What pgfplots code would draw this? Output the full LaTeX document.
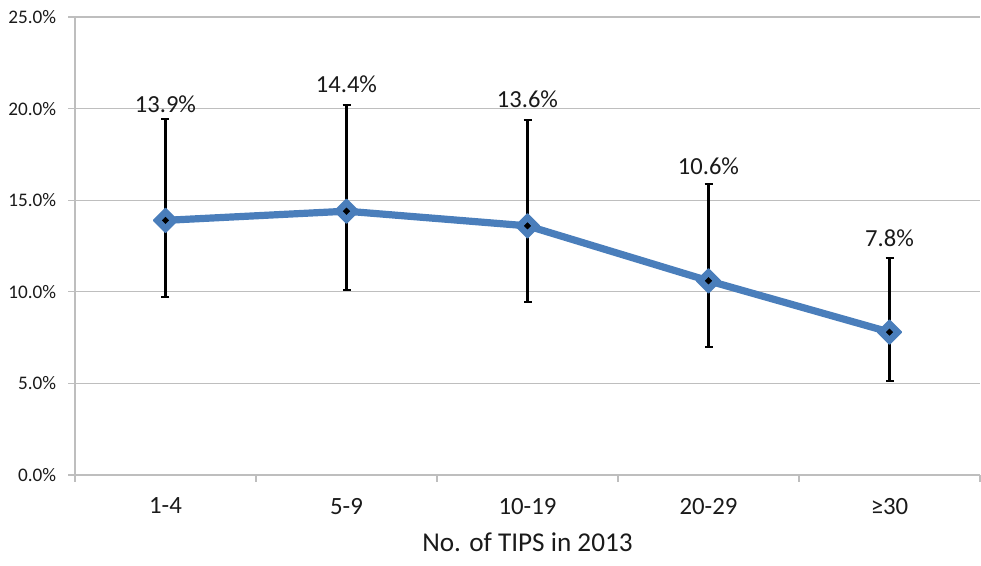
\documentclass[border=0pt]{standalone}
\usepackage{fontspec}
\setmainfont{Carlito}
\usepackage{pgfplots}
\pgfplotsset{compat=1.18}
\usetikzlibrary{calc}
\definecolor{lineblue}{HTML}{4A7EBB}
\definecolor{gridgray}{HTML}{BEBEBE}
\definecolor{txt}{HTML}{1A1A1A}
\begin{document}
\begin{tikzpicture}
\begin{axis}[
  name=ax,
  scale only axis,
  width=678.75pt, height=343.5pt,
  xmin=-0.5, xmax=4.5,
  ymin=0, ymax=25,
  axis x line*=bottom,
  axis y line*=left,
  axis line style={gridgray, line width=0.9pt},
  xtick={0,1,2,3,4},
  xticklabels={1-4,5-9,10-19,20-29,{≥30}},
  minor xtick={-0.5,0.5,1.5,2.5,3.5,4.5},
  major x tick style={draw=none},
  minor x tick style={gridgray, line width=0.9pt},
  minor tick length=5pt,
  ytick={0,5,10,15,20,25},
  y tick style={gridgray, line width=0.9pt},
  major tick length=5pt,
  tick align=outside,
  ymajorgrids,
  grid style={gridgray, line width=0.9pt},
  yticklabel={\pgfmathprintnumber[fixed,fixed zerofill,precision=1]{\tick}\%},
  /pgf/number format/assume math mode=true,
  yticklabel style={font=\fontsize{14.4pt}{16pt}\selectfont, text=txt, inner sep=0pt, xshift=-9pt},
  xticklabel style={font=\fontsize{18.6pt}{20pt}\selectfont, text=txt, inner sep=0pt, anchor=north, yshift=-12pt},
  xlabel={No. of TIPS in 2013},
  xlabel style={font=\fontsize{20.4pt}{22pt}\selectfont, text=txt, inner sep=0pt, anchor=base, at={(axis description cs:0.5,0)}, yshift=-57pt},
  clip=false,
]
% error bars
\addplot[draw=none, mark=none,
  error bars/.cd, y dir=both, y explicit,
  error bar style={black, line width=2.2pt},
  error mark options={rotate=90, mark size=3pt, line width=1.6pt, black}]
coordinates {
  (0,13.9) += (0,5.53) -= (0,4.18)
  (1,14.4) += (0,5.80) -= (0,4.30)
  (2,13.6) += (0,5.78) -= (0,4.14)
  (3,10.6) += (0,5.27) -= (0,3.63)
  (4,7.8)  += (0,4.03) -= (0,2.67)
};
% main line with diamond markers
\addplot[lineblue, line width=5.4pt, line join=round,
  mark=square*, mark size=6.3pt,
  mark options={rotate=45, fill=lineblue, draw=lineblue, line width=1.2pt, line join=round}]
coordinates {(0,13.9) (1,14.4) (2,13.6) (3,10.6) (4,7.8)};
% black centre dots
\addplot[only marks, mark=square*, mark size=1.7pt, mark options={rotate=45, fill=black, draw=black}]
coordinates {(0,13.9) (1,14.4) (2,13.6) (3,10.6) (4,7.8)};
% data labels
\addplot[draw=none, mark=none,
  nodes near coords, point meta=explicit symbolic,
  every node near coord/.append style={anchor=base, inner sep=0pt, text=txt, font=\fontsize{18.4pt}{20pt}\selectfont}]
coordinates {
  (0,19.76) [13.9\%]
  (1,20.87) [14.4\%]
  (2,20.07) [13.6\%]
  (3,16.38) [10.6\%]
  (4,12.45) [7.8\%]
};
\end{axis}
\pgfresetboundingbox
\path ($(ax.south west)+(-56.25pt,-67.5pt)$) rectangle ($(ax.north east)+(0.75pt,12.75pt)$);
\end{tikzpicture}
\end{document}
